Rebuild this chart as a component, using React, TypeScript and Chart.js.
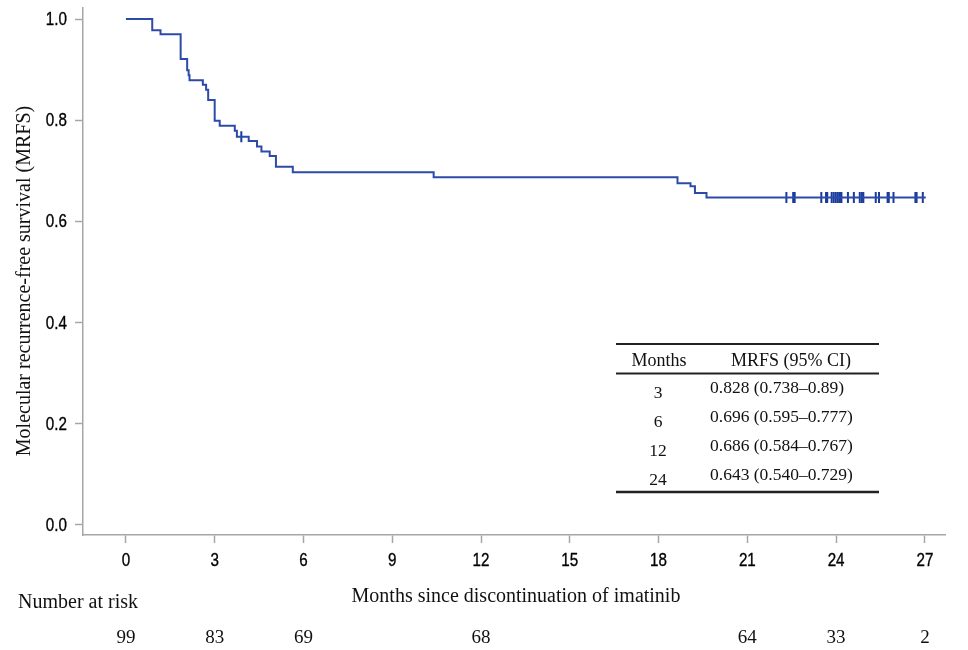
import { useEffect, useRef } from "react";
import { Chart, registerables } from "chart.js";

Chart.register(...registerables);

// Kaplan–Meier step curve (months, MRFS)
const eventMonths = [0, 0.89, 1.17, 1.85, 2.07, 2.12, 2.15, 2.6, 2.71, 2.78, 3.0, 3.17, 3.68, 3.75, 4.15, 4.43, 4.58, 4.86, 5.07, 5.64, 10.4, 18.64, 19.08, 19.23, 19.62, 27.03];
const survival = [1.0, 0.978, 0.97, 0.921, 0.899, 0.889, 0.879, 0.87, 0.86, 0.84, 0.799, 0.789, 0.779, 0.767, 0.759, 0.748, 0.738, 0.729, 0.708, 0.697, 0.687, 0.675, 0.669, 0.656, 0.647, 0.647];

// censored observations (months)
const censorMonths = [3.9, 22.32, 22.55, 22.6, 23.5, 23.66, 23.7, 23.85, 23.92, 23.99, 24.06, 24.13, 24.18, 24.4, 24.6, 24.8, 24.87, 24.92, 25.34, 25.45, 25.74, 25.78, 25.94, 26.68, 26.72, 26.93];

const xTicks = [0, 3, 6, 9, 12, 15, 18, 21, 24, 27];
const yTicks = [0, 0.2, 0.4, 0.6, 0.8, 1.0];

const riskMonths = [0, 3, 6, 12, 21, 24, 27];
const riskCounts = [99, 83, 69, 68, 64, 33, 2];

const tableHeader = ["Months", "MRFS (95% CI)"];
const tableMonths = ["3", "6", "12", "24"];
const tableMRFS = ["0.828 (0.738–0.89)", "0.696 (0.595–0.777)", "0.686 (0.584–0.767)", "0.643 (0.540–0.729)"];

const xTitle = "Months since discontinuation of imatinib";
const yTitle = "Molecular recurrence-free survival (MRFS)";
const riskTitle = "Number at risk";

const SERIF = "'Liberation Serif', 'Times New Roman', serif";
const SANS = "'Liberation Sans', Arial, sans-serif";
const LINE = "#2c4aa8";
const CENSOR = "#1a3a9c";
const AXIS = "#a6a6a6";

function kmAt(t: number): number {
  let v = survival[0];
  for (let i = 0; i < eventMonths.length; i++) {
    if (eventMonths[i] <= t) v = survival[i];
  }
  return v;
}

function narrowText(ctx: CanvasRenderingContext2D, text: string, x: number, y: number, align: CanvasTextAlign) {
  ctx.save();
  ctx.translate(x, y);
  ctx.scale(0.8, 1);
  ctx.textAlign = align;
  ctx.textBaseline = "middle";
  ctx.fillText(text, 0, 0);
  ctx.lineWidth = 0.35;
  ctx.strokeText(text, 0, 0);
  ctx.restore();
}

const overlayPlugin = {
  id: "overlay",
  afterDraw(chart: any) {
    const ctx = chart.ctx as CanvasRenderingContext2D;
    const xs = chart.scales.x;
    const ys = chart.scales.y;
    const area = chart.chartArea;
    ctx.save();

    // tick labels (condensed look)
    ctx.fillStyle = "#000";
    ctx.strokeStyle = "#000";
    ctx.font = `19px ${SANS}`;
    yTicks.forEach((v) => narrowText(ctx, v.toFixed(1), 67, ys.getPixelForValue(v) + 1, "right"));
    xTicks.forEach((v) => narrowText(ctx, String(v), xs.getPixelForValue(v), 561, "center"));

    ctx.fillStyle = "#111";
    // y title
    ctx.save();
    ctx.translate(25, 281);
    ctx.rotate(-Math.PI / 2);
    ctx.font = `20px ${SERIF}`;
    ctx.textAlign = "center";
    ctx.textBaseline = "middle";
    ctx.fillText(yTitle, 0, 0);
    ctx.restore();

    // x title
    ctx.font = `20px ${SERIF}`;
    ctx.textAlign = "center";
    ctx.textBaseline = "middle";
    ctx.fillText(xTitle, (area.left + area.right) / 2 + 2, 597);

    // number at risk
    ctx.textAlign = "left";
    ctx.fillText(riskTitle, 18, 603);
    ctx.textAlign = "center";
    ctx.font = `19px ${SERIF}`;
    riskMonths.forEach((m, i) => {
      ctx.fillText(String(riskCounts[i]), xs.getPixelForValue(m), 638);
    });

    // table
    const tl = 616, tr = 879;
    ctx.strokeStyle = "#222";
    ctx.lineWidth = 2;
    ctx.beginPath(); ctx.moveTo(tl, 344); ctx.lineTo(tr, 344); ctx.stroke();
    ctx.beginPath(); ctx.moveTo(tl, 373.5); ctx.lineTo(tr, 373.5); ctx.stroke();
    ctx.lineWidth = 2.5;
    ctx.beginPath(); ctx.moveTo(tl, 492); ctx.lineTo(tr, 492); ctx.stroke();

    ctx.font = `18px ${SERIF}`;
    ctx.textAlign = "center";
    ctx.fillText(tableHeader[0], 659, 361);
    ctx.fillText(tableHeader[1], 791, 361);
    ctx.font = `17.5px ${SERIF}`;
    tableMonths.forEach((m, i) => {
      ctx.textAlign = "center";
      ctx.fillText(m, 658, 393 + i * 29);
      ctx.textAlign = "left";
      ctx.fillText(tableMRFS[i], 710, 388 + i * 29);
    });
    ctx.restore();
  },
};

export default function App() {
  const ref = useRef<HTMLCanvasElement | null>(null);

  useEffect(() => {
    document.body.style.margin = "0";
    const canvas = ref.current;
    if (!canvas) return;
    const curve = eventMonths.map((m, i) => ({ x: m, y: survival[i] }));
    const censors = censorMonths.map((m) => ({ x: m, y: kmAt(m) }));

    const chart = new Chart(canvas, {
      type: "scatter",
      data: {
        datasets: [
          {
            type: "line",
            data: curve,
            borderColor: LINE,
            borderWidth: 2,
            stepped: "before",
            pointRadius: 0,
            fill: false,
          } as any,
          {
            type: "scatter",
            data: censors,
            pointStyle: "line",
            rotation: 90,
            pointRadius: 5.5,
            borderWidth: 2,
            borderColor: CENSOR,
            backgroundColor: CENSOR,
          } as any,
        ],
      },
      options: {
        responsive: false,
        animation: false,
        devicePixelRatio: 1,
        layout: { padding: { top: 7, right: 23, left: 0, bottom: 0 } },
        plugins: { legend: { display: false }, tooltip: { enabled: false } },
        scales: {
          x: {
            type: "linear",
            min: -1.45,
            max: 27.68,
            afterBuildTicks: (s: any) => {
              s.ticks = xTicks.map((v) => ({ value: v }));
            },
            afterFit: (s: any) => {
              s.height = 115;
              s.paddingLeft = 0;
              s.paddingRight = 0;
            },
            grid: { drawOnChartArea: false, color: AXIS, tickLength: 8, tickWidth: 1.5 },
            border: { display: true, color: AXIS, width: 1.5 },
            ticks: { display: false, autoSkip: false, maxRotation: 0 },
          },
          y: {
            type: "linear",
            min: -0.021,
            max: 1.023,
            afterBuildTicks: (s: any) => {
              s.ticks = yTicks.map((v) => ({ value: v }));
            },
            afterFit: (s: any) => {
              s.width = 83;
              s.paddingTop = 0;
              s.paddingBottom = 0;
            },
            grid: { drawOnChartArea: false, color: AXIS, tickLength: 8, tickWidth: 1.5 },
            border: { display: true, color: AXIS, width: 1.5 },
            ticks: { display: false },
          },
        },
      },
      plugins: [overlayPlugin],
    } as any);
    return () => chart.destroy();
  }, []);

  return (
    <div style={{ width: 968, height: 650, background: "#fff" }}>
      <canvas ref={ref} width={968} height={650} style={{ display: "block" }} />
    </div>
  );
}
